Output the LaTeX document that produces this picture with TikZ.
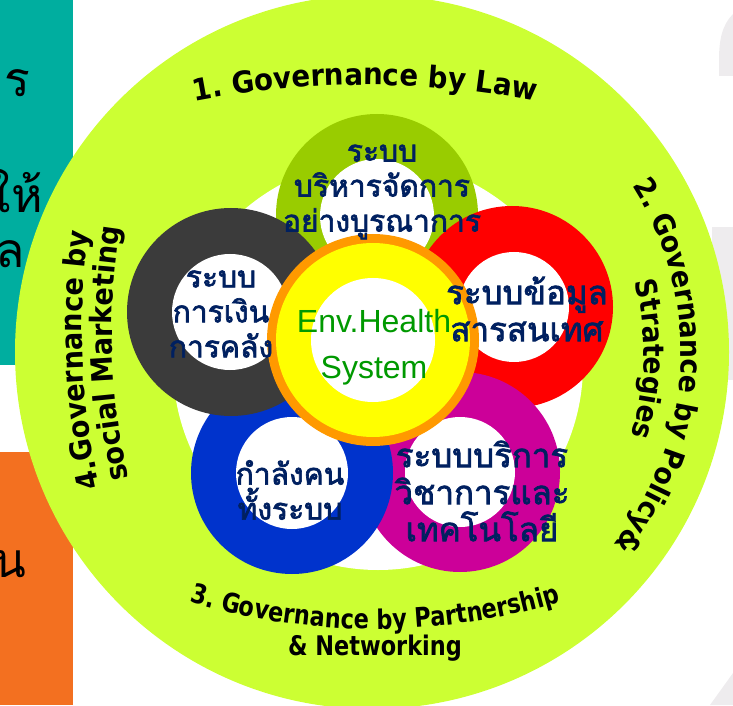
\documentclass[tikz,border=0pt]{standalone}
\usepackage{fontspec}
\setmainfont{Liberation Sans}
\newfontfamily\thaifont[Script=Thai]{Loma}
\newfontfamily\thaiheavy[Script=Thai, FakeBold=2.2]{Loma}
\newfontfamily\govfont[FakeStretch=0.92]{DejaVu Sans}
\newfontfamily\govnarrow[FakeStretch=0.83]{DejaVu Sans}
\usetikzlibrary{decorations.text}

\definecolor{limebg}{HTML}{CCFF33}
\definecolor{tealbox}{HTML}{00AE9F}
\definecolor{orangebox}{HTML}{F37020}
\definecolor{bggray}{HTML}{EEECEE}
\definecolor{ringgreen}{HTML}{99CC00}
\definecolor{ringgray}{HTML}{3B3B3B}
\definecolor{ringred}{HTML}{FF0000}
\definecolor{ringblue}{HTML}{0033CC}
\definecolor{ringmagenta}{HTML}{CC0099}
\definecolor{coreyellow}{HTML}{FFFF00}
\definecolor{coreorange}{HTML}{FF9900}
\definecolor{navytext}{HTML}{002060}
\definecolor{envgreen}{HTML}{009900}

\begin{document}
\begin{tikzpicture}[x=1pt,y=1pt,
  ringtext/.style={font=\thaiheavy\fontsize{30}{35}\selectfont, text=navytext, align=center, inner sep=0pt},
  bigringtext/.style={ringtext, font=\thaiheavy\fontsize{33}{37}\selectfont},
  sidetext/.style={font=\thaifont\fontsize{48}{48}\selectfont, anchor=base east, inner sep=0pt}]

\useasboundingbox (0,0) rectangle (733,705);
\clip (0,0) rectangle (733,705);

% boxes at the left edge
\fill[tealbox] (0,340) rectangle (73,705);
\fill[orangebox] (0,0) rectangle (73,253);

% grey pieces at the right edge
\fill[bggray] (733,691) .. controls (722,680) and (719,665) .. (719,645) -- (719,629) -- (733,629) -- cycle;
\fill[bggray] (712,325) rectangle (733,478);
\fill[bggray] (710,0) -- (733,32) -- (733,0) -- cycle;

% big circle
\fill[limebg] (372,353) circle[radius=357];
\fill[white] (378,340) circle[radius=205];

% ring green
\fill[ringgreen] (377,490) circle[radius=101];
\fill[white] (377,489) circle[radius=57];

% ring red
\fill[ringred] (512,398) circle[radius=101];
\fill[white] (514,398) circle[radius=55];

% ring magenta
\fill[ringmagenta] (460,233) circle[radius=100];
\fill[white] (460,233) circle[radius=55];

% ring blue
\fill[ringblue] (292,232) circle[radius=101];
\fill[white] (292,232) circle[radius=56];

% ring dark
\fill[ringgray] (231,393) circle[radius=104];
\fill[white] (230,393) circle[radius=58];

% core
\fill[coreorange] (373,365) circle[radius=106];
\fill[coreyellow] (373,365) circle[radius=97];
\fill[white] (373,365) circle[radius=62];

% texts in the boxes
\node[sidetext] (tealtop) at (30,608) {าร};
\node[sidetext] (tealmid) at (43,492) {ให้};
\node[sidetext] (tealbot) at (25,437) {ล};
\node[sidetext] (orangemid) at (27,128) {น};

% ring labels
\node[ringtext] (adminlabel) at (382,513) {ระบบ\\บริหารจัดการ\\อย่างบูรณาการ};
\node[ringtext] (financelabel) at (221,391) {ระบบ\\การเงิน\\การคลัง};
\node[bigringtext] (infolabel) at (527,396) {ระบบข้อมูล\\สารสนเทศ};
\node[ringtext] (stafflabel) at (290,215) {กำลังคน\\ทั้งระบบ};
\node[bigringtext] (servicelabel) at (482,214) {ระบบบริการ\\วิชาการและ\\เทคโนโลยี};
\node[text=envgreen, font=\fontsize{32}{46}\selectfont, align=center] (corelabel) at (374,358) {Env.Health\\System};

% governance 1
\path[decorate, decoration={text along path, text align=center,
  text={|\govfont\bfseries\fontsize{30}{30}\selectfont|1. Governance by Law}}]
  (365,-280) ++(110:900) arc[start angle=110, end angle=70, radius=900];

% governance 2
\path[decorate, decoration={text along path, text align=center,
  text={|\govfont\bfseries\fontsize{29}{29}\selectfont|2. Governance by Policy{\&}}}]
  (372,353) ++(42:309) arc[start angle=42, end angle=-48, radius=309];
\path[decorate, decoration={text along path, text align=center,
  text={|\govfont\bfseries\fontsize{29}{29}\selectfont|Strategies}}]
  (372,353) ++(40:272) arc[start angle=40, end angle=-43, radius=272];

% governance 3
\path[decorate, decoration={text along path, text align=center,
  text={|\govnarrow\bfseries\fontsize{27}{27}\selectfont|3. Governance by Partnership}}]
  (375,726) ++(250:650) arc[start angle=250, end angle=290, radius=650];
\node[font=\govnarrow\bfseries\fontsize{27}{27}\selectfont, anchor=base, inner sep=0pt] (networking) at (375,50) {\& Networking};

% governance 4
\path[decorate, decoration={text along path, text align=center,
  text={|\govfont\bfseries\fontsize{29.5}{29.5}\selectfont|4.Governance by}}]
  (782,375) ++(200:700) arc[start angle=200, end angle=165, radius=700];
\path[decorate, decoration={text along path, text align=center,
  text={|\govfont\bfseries\fontsize{29.5}{29.5}\selectfont|social Marketing}}]
  (782,375) ++(200:670) arc[start angle=200, end angle=164, radius=670];

\end{tikzpicture}
\end{document}
